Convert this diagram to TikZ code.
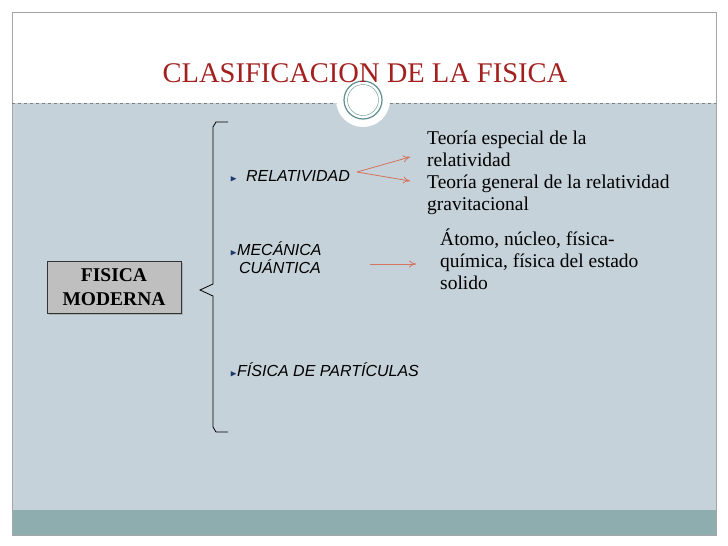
\documentclass[tikz,border=0pt]{standalone}
\usepackage{amssymb}
\usepackage{fontspec}
\setmainfont{Liberation Serif}
\setsansfont{Liberation Sans}
\usepackage{tikz}
\usetikzlibrary{positioning,arrows.meta,shadows}
\definecolor{titlered}{HTML}{A3201F}
\definecolor{panel}{HTML}{C6D2D9}
\definecolor{band}{HTML}{8DADAE}
\definecolor{arrowred}{HTML}{D4735E}
\definecolor{ringcol}{HTML}{5E8F8E}
\definecolor{bulletblue}{HTML}{1F3A70}
\newcommand{\bul}{\textcolor{bulletblue}{\normalfont\small$\blacktriangleright$}}
\begin{document}
\begin{tikzpicture}[x=1pt, y=-1pt,
	item/.style = {font=\sffamily\itshape\fontsize{16}{18}\selectfont, align=left, inner sep=0pt, anchor=west},
	desc/.style = {font=\fontsize{19.5}{22}\selectfont, align=left, inner sep=0pt, anchor=north west},
	arr/.style = {-{To[length=7pt,width=7pt]}, arrowred, line width=0.8pt}]
	
	% slide background
	\useasboundingbox (0,0) rectangle (728,546);
	\fill[white] (0,0) rectangle (728,546);
	\fill[panel] (12,103) rectangle (716,510);
	\fill[band] (12,510) rectangle (716,535);
	\draw[gray!70] (12,12) rectangle (716,535);
	\draw[gray, dashed, thin] (12,103) -- (716,103);
	\fill[white] (363,100) circle (27);
	\draw[ringcol, line width=1.2pt] (363,100) circle (19);
	\draw[ringcol, thin] (363,100) circle (15.5);
	
	% title
	\node (title) [font=\fontsize{28.5}{30}\selectfont, text=titlered, inner sep=0pt] at (365,73) {CLASIFICACION DE LA FISICA};
	
	% main box
	\node (fm) [draw=black!80, fill=black!25, drop shadow={opacity=0.4}, font=\bfseries\fontsize{19.5}{24}\selectfont,
		align=center, minimum width=134pt, minimum height=52pt, inner sep=0pt] at (114,287) {FISICA\\MODERNA};
	
	% brace
	\coordinate (btop) at (228,122);
	\coordinate (bbot) at (228,432);
	\coordinate (tip) at (200,290);
	\draw[black, thick] (btop) -- (216,122) -- (213,127) -- (213,284) -- (tip) -- (213,296) -- (213,427) -- (216,432) -- (bbot);
	
	% branches
	\node (rel) [item] at (230,176) {\bul\ \ RELATIVIDAD};
	\node (mec) [item] at (230,258) {\bul MECÁNICA\\\ \ CUÁNTICA};
	\node (par) [item] at (230,370) {\bul FÍSICA DE PARTÍCULAS};
	
	% descriptions
	\node (reltxt) [desc] at (427,131) {Teoría especial de la\\relatividad\\Teoría general de la relatividad\\gravitacional};
	\node (mectxt) [desc] at (440,229) {Átomo, núcleo, física-\\química, física del estado\\solido};
	
	% connectors
	\coordinate (relO) at (357,172);
	\coordinate (relA) at (410,157);
	\coordinate (relB) at (410,181);
	\coordinate (mecA) at (370,264);
	\coordinate (mecB) at (416,264);
	\draw[arr] (relO) -- (relA);
	\draw[arr] (relO) -- (relB);
	\draw[arr] (mecA) -- (mecB);
\end{tikzpicture}
\end{document}
